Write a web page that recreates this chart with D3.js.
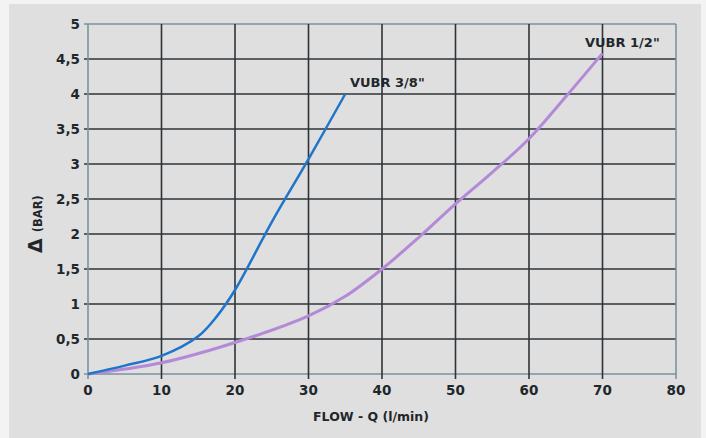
<!DOCTYPE html>
<html>
<head>
<meta charset="utf-8">
<script src="https://cdn.jsdelivr.net/npm/d3@7"></script>
<style>
  html, body { margin: 0; padding: 0; background: #f3f3f3; }
  svg { display: block; }
</style>
</head>
<body>
<svg id="chart" width="706" height="438"></svg>
<script>
// flow Q (l/min) vs pressure drop (bar)
const flow38 = [0, 5, 10, 15, 17.5, 20, 25, 30, 35];
const drop38 = [0, 0.12, 0.26, 0.54, 0.82, 1.2, 2.17, 3.07, 4.0];
const flow12 = [0, 10, 20, 30, 35, 40, 45, 50, 55, 60, 65, 70];
const drop12 = [0, 0.16, 0.45, 0.83, 1.11, 1.5, 1.95, 2.43, 2.88, 3.36, 3.96, 4.58];
const xTicks = [0, 10, 20, 30, 40, 50, 60, 70, 80];
const yTicks = [0, 0.5, 1, 1.5, 2, 2.5, 3, 3.5, 4, 4.5, 5];

const FONT = '"DejaVu Sans", Verdana, sans-serif';
const INK = '#1f272b', GRID = '#2c3438', FRAME = '#7a939e';
const BLUE = '#1f75c9', LILAC = '#b48ad8';

const svg = d3.select('#chart');
svg.append('rect').attr('x', 9).attr('y', 4).attr('width', 692).attr('height', 434).attr('fill', '#dfdfe0');

const x = d3.scaleLinear().domain([0, 80]).range([88, 676]);
const y = d3.scaleLinear().domain([0, 5]).range([374, 24]);

// grid — inner lines dark, outer frame bluish grey
const grid = svg.append('g');
yTicks.forEach(t => {
  grid.append('line').attr('x1', x(0) - 4).attr('x2', x(80)).attr('y1', y(t)).attr('y2', y(t))
    .attr('stroke', (t === 0 || t === 5) ? FRAME : GRID).attr('stroke-width', 1.6);
});
xTicks.forEach(t => {
  grid.append('line').attr('y1', y(5)).attr('y2', y(0) + 5).attr('x1', x(t)).attr('x2', x(t))
    .attr('stroke', (t === 0 || t === 80) ? FRAME : GRID).attr('stroke-width', 1.6);
});

// tick labels
const fmt = d => String(d).replace('.', ',');
svg.append('g').selectAll('text').data(yTicks).join('text')
  .attr('x', 80).attr('y', d => y(d) + 5).attr('text-anchor', 'end')
  .attr('font-family', FONT).attr('font-weight', 700).attr('font-size', 13.5).attr('fill', INK)
  .text(fmt);
svg.append('g').selectAll('text').data(xTicks).join('text')
  .attr('x', d => x(d)).attr('y', 395).attr('text-anchor', 'middle')
  .attr('font-family', FONT).attr('font-weight', 700).attr('font-size', 13.5).attr('fill', INK)
  .text(d => d);

// axis titles
svg.append('text').attr('x', 371).attr('y', 421).attr('text-anchor', 'middle')
  .attr('font-family', FONT).attr('font-weight', 700).attr('font-size', 12.5).attr('fill', INK)
  .text('FLOW - Q (l/min)');
const yt = svg.append('text').attr('transform', 'translate(42,224) rotate(-90)').attr('text-anchor', 'middle')
  .attr('font-family', FONT).attr('font-weight', 700).attr('fill', INK);
yt.append('tspan').attr('font-size', 19).text('Δ');
yt.append('tspan').attr('font-size', 11.5).attr('dx', 6).text('(BAR)');

// curves
const line = d3.line().x(d => x(d[0])).y(d => y(d[1])).curve(d3.curveCatmullRom.alpha(0.5));
svg.append('path').datum(d3.zip(flow12, drop12)).attr('d', line)
  .attr('fill', 'none').attr('stroke', LILAC).attr('stroke-width', 3);
svg.append('path').datum(d3.zip(flow38, drop38)).attr('d', line)
  .attr('fill', 'none').attr('stroke', BLUE).attr('stroke-width', 2.5);

// series labels
svg.append('text').attr('x', 350).attr('y', 87)
  .attr('font-family', FONT).attr('font-weight', 700).attr('font-size', 13).attr('fill', INK)
  .text('VUBR 3/8"');
svg.append('text').attr('x', 585).attr('y', 47)
  .attr('font-family', FONT).attr('font-weight', 700).attr('font-size', 13).attr('fill', INK)
  .text('VUBR 1/2"');
</script>
</body>
</html>
